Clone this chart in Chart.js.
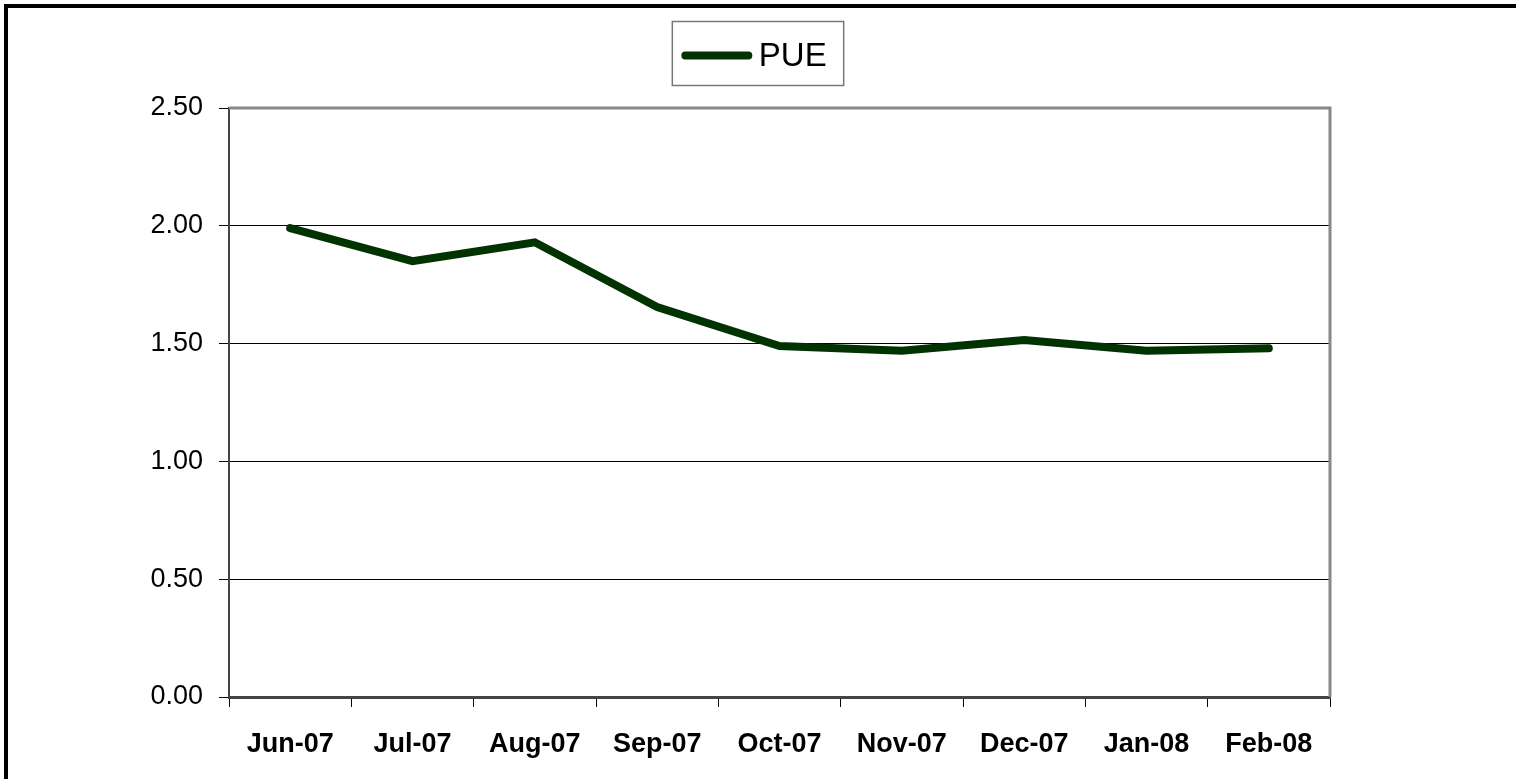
<!DOCTYPE html>
<html>
<head>
<meta charset="utf-8">
<script src="https://cdn.jsdelivr.net/npm/chart.js@4"></script>
<style>
  html, body { margin: 0; padding: 0; background: #fff; overflow: hidden; }
  #frame {
    position: absolute; left: 4px; top: 4px; width: 1530px; height: 800px;
    border-left: 4px solid #000; border-top: 4px solid #000;
  }
  #chart { position: absolute; left: 0; top: 0; }
</style>
</head>
<body>
<div id="frame"></div>
<canvas id="chart" width="1516" height="779"></canvas>
<script>
const months = ['Jun-07', 'Jul-07', 'Aug-07', 'Sep-07', 'Oct-07', 'Nov-07', 'Dec-07', 'Jan-08', 'Feb-08'];
const pue = [1.99, 1.85, 1.93, 1.655, 1.49, 1.47, 1.515, 1.47, 1.48];
const yTicks = [0, 0.5, 1, 1.5, 2, 2.5];

const FONT = "'Liberation Sans', Arial, sans-serif";
const LINE_COLOR = '#003300';

// gray frame on top/right of plot area, and the boxed legend
const decorations = {
  id: 'decorations',
  afterDraw(chart) {
    const { ctx, chartArea: a } = chart;
    ctx.save();
    ctx.strokeStyle = '#888';
    ctx.lineWidth = 3;
    ctx.beginPath();
    ctx.moveTo(a.left, a.top);
    ctx.lineTo(a.right, a.top);
    ctx.lineTo(a.right, a.bottom);
    ctx.stroke();

    const hb = chart.legend.legendHitBoxes[0];
    if (hb) {
      const midY = hb.top + hb.height / 2 - 1;
      ctx.strokeStyle = LINE_COLOR;
      ctx.lineWidth = 8;
      ctx.lineCap = 'round';
      ctx.beginPath();
      ctx.moveTo(hb.left + 3, midY);
      ctx.lineTo(hb.left + 66, midY);
      ctx.stroke();

      ctx.strokeStyle = '#777';
      ctx.lineWidth = 1.5;
      ctx.lineCap = 'butt';
      ctx.strokeRect(hb.left - 10, hb.top - 18.5, hb.width + 27, hb.height + 31);
    }
    ctx.restore();
  }
};

new Chart(document.getElementById('chart').getContext('2d'), {
  type: 'line',
  data: {
    labels: months,
    datasets: [{
      label: 'PUE',
      data: pue,
      borderColor: LINE_COLOR,
      backgroundColor: LINE_COLOR,
      borderWidth: 8,
      borderCapStyle: 'round',
      pointRadius: 0,
      tension: 0,
      fill: false,
    }],
  },
  options: {
    responsive: false,
    animation: false,
    layout: { padding: { top: 30, right: 7, left: 0, bottom: 0 } },
    plugins: {
      tooltip: { enabled: false },
      legend: {
        position: 'top',
        labels: {
          color: '#000',
          font: { family: FONT, size: 33 },
          boxWidth: 60,
          padding: 10,
          generateLabels: (chart) =>
            Chart.defaults.plugins.legend.labels.generateLabels(chart).map((l) => ({
              ...l,
              fillStyle: 'rgba(0,0,0,0)',
              strokeStyle: 'rgba(0,0,0,0)',
              lineWidth: 0,
            })),
        },
      },
    },
    scales: {
      x: {
        offset: true,
        grid: {
          offset: true,
          drawOnChartArea: false,
          tickLength: 10,
          color: '#000',
        },
        border: { color: '#444', width: 3 },
        ticks: {
          color: '#000',
          font: { family: FONT, size: 27, weight: 'bold' },
          padding: 21,
          maxRotation: 0,
          autoSkip: false,
        },
        afterFit: (s) => { s.height = 82; },
      },
      x2: {
        type: 'category',
        position: 'top',
        grid: { display: false },
        ticks: { display: false },
        border: { display: false },
        afterFit: (s) => { s.height = 25; },
      },
      y: {
        min: 0,
        max: 2.5,
        afterBuildTicks: (s) => { s.ticks = yTicks.map((v) => ({ value: v })); },
        grid: { color: '#000', lineWidth: 1, tickLength: 10, tickColor: '#000' },
        border: { color: '#444', width: 2 },
        ticks: {
          color: '#000',
          font: { family: FONT, size: 27 },
          padding: 16,
          callback: (v) => Number(v).toFixed(2),
        },
        afterFit: (s) => { s.width = 229; },
      },
      y1: {
        type: 'linear',
        position: 'right',
        grid: { display: false },
        ticks: { display: false },
        border: { display: false },
        afterFit: (s) => { s.width = 179; },
      },
    },
  },
  plugins: [decorations],
});
</script>
</body>
</html>
